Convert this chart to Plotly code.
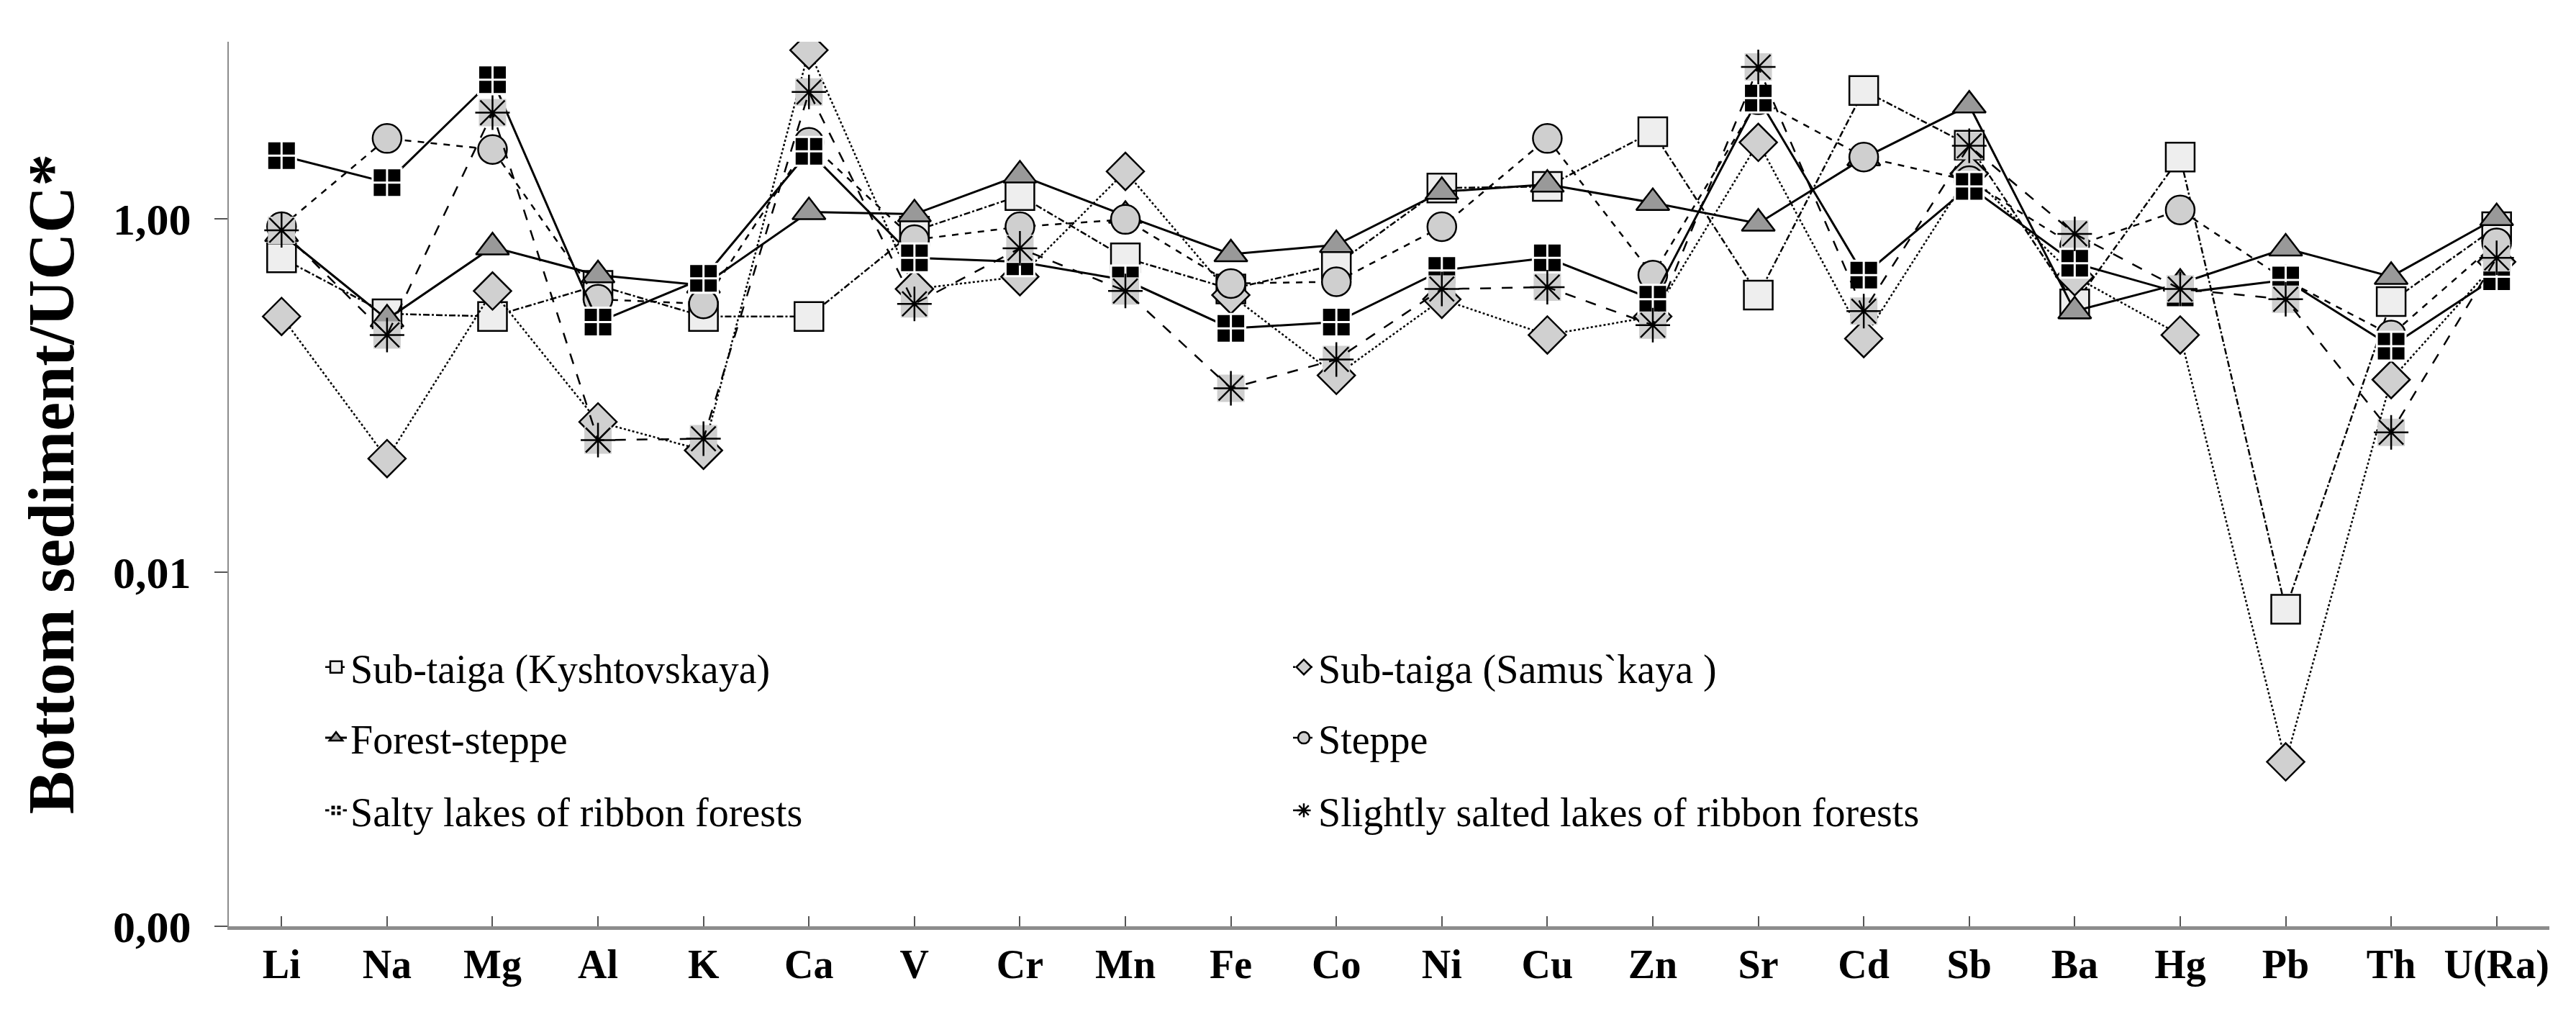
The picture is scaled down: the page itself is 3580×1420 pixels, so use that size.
import plotly.graph_objects as go

elements = ["Li", "Na", "Mg", "Al", "K", "Ca", "V", "Cr", "Mn", "Fe", "Co", "Ni",
            "Cu", "Zn", "Sr", "Cd", "Sb", "Ba", "Hg", "Pb", "Th", "U(Ra)"]

kyshtovskaya = [0.60, 0.29, 0.28, 0.42, 0.28, 0.28, 0.85, 1.35, 0.60, 0.40, 0.55, 1.49,
                1.52, 3.10, 0.37, 5.30, 2.60, 0.33, 2.23, 0.0062, 0.34, 0.90]
samuskaya = [0.28, 0.044, 0.39, 0.071, 0.049, 8.96, 0.40, 0.47, 1.85, 0.37, 0.13, 0.35,
             0.22, 0.28, 2.70, 0.21, 1.80, 0.47, 0.22, 0.00085, 0.123, 0.57]
forest_steppe = [0.82, 0.27, 0.69, 0.48, 0.42, 1.09, 1.06, 1.76, 1.04, 0.63, 0.71, 1.42,
                 1.56, 1.23, 0.94, 2.20, 4.37, 0.30, 0.43, 0.68, 0.47, 1.01]
steppe = [0.90, 2.84, 2.46, 0.35, 0.33, 2.70, 0.76, 0.90, 0.99, 0.43, 0.44, 0.90,
          2.84, 0.48, 4.70, 2.23, 1.64, 0.70, 1.12, 0.45, 0.22, 0.73]
salty = [2.27, 1.60, 6.10, 0.26, 0.46, 2.40, 0.60, 0.57, 0.45, 0.24, 0.26, 0.51,
         0.60, 0.35, 4.80, 0.48, 1.52, 0.56, 0.38, 0.45, 0.19, 0.47]
slightly_salted = [0.86, 0.22, 3.97, 0.056, 0.057, 5.20, 0.33, 0.68, 0.39, 0.11, 0.16, 0.40,
                   0.41, 0.25, 7.20, 0.30, 2.58, 0.82, 0.40, 0.35, 0.062, 0.60]

y_tickvals = [0.0001, 0.01, 1]
y_ticktext = ["0,00", "0,01", "1,00"]

FONT = "Liberation Serif"
MS = 40

fig = go.Figure()

fig.add_trace(go.Scatter(
    x=elements, y=kyshtovskaya, name="Sub-taiga (Kyshtovskaya)", mode="lines+markers",
    legend="legend",
    line=dict(color="black", width=2.5, dash="dashdot"),
    marker=dict(symbol="square", size=MS, color="#eeeeee", line=dict(color="black", width=2.5))))

fig.add_trace(go.Scatter(
    x=elements, y=samuskaya, name="Sub-taiga (Samus`kaya )", mode="lines+markers",
    legend="legend",
    line=dict(color="black", width=2.5, dash="dot"),
    marker=dict(symbol="diamond", size=MS, color="#d0d0d0", line=dict(color="black", width=2.5))))

fig.add_trace(go.Scatter(
    x=elements, y=forest_steppe, name="Forest-steppe", mode="lines+markers",
    legend="legend2",
    line=dict(color="black", width=3),
    marker=dict(symbol="triangle-up", size=MS, color="#999999", line=dict(color="black", width=2.5))))

fig.add_trace(go.Scatter(
    x=elements, y=steppe, name="Steppe", mode="lines+markers",
    legend="legend2",
    line=dict(color="black", width=2.5, dash="dash"),
    marker=dict(symbol="circle", size=MS, color="#cfcfcf", line=dict(color="black", width=2.5))))

fig.add_trace(go.Scatter(
    x=elements, y=salty, name="Salty lakes of ribbon forests", mode="lines+markers",
    legend="legend3",
    line=dict(color="black", width=3),
    marker=dict(symbol="square-cross", size=MS, color="black", line=dict(color="white", width=3))))

# grey square behind the asterisks
fig.add_trace(go.Scatter(
    x=elements, y=slightly_salted, mode="markers", showlegend=False, hoverinfo="skip",
    marker=dict(symbol="square", size=MS - 2, color="#cfcfcf", line=dict(width=0))))

fig.add_trace(go.Scatter(
    x=elements, y=slightly_salted, name="Slightly salted lakes of ribbon forests",
    mode="lines+markers", legend="legend3",
    line=dict(color="black", width=2.5, dash="longdash"),
    marker=dict(symbol="asterisk-open", size=MS, color="black", line=dict(color="black", width=2.5))))

leg = dict(orientation="h", x=0.04, xanchor="left", yanchor="middle",
           bgcolor="rgba(0,0,0,0)", entrywidth=1300,
           font=dict(family=FONT, size=56, color="black"))

fig.update_layout(
    width=3580, height=1420,
    paper_bgcolor="white", plot_bgcolor="white",
    margin=dict(l=310, r=45, t=50, b=141),
    font=dict(family=FONT, color="black"),
    legend=dict(leg, y=0.293),
    legend2=dict(leg, y=0.213),
    legend3=dict(leg, y=0.131),
)

fig.update_xaxes(
    type="category", range=[-0.5, 21.5],
    showline=True, linecolor="#8c8c8c", linewidth=5,
    ticks="inside", ticklen=14, tickwidth=2, tickcolor="#555555",
    showgrid=False, zeroline=False,
    tickfont=dict(family=FONT, size=56, color="black"),
    ticktext=["<b>%s</b>" % e for e in elements], tickvals=elements,
)

fig.update_yaxes(
    type="log", range=[-4, 1],
    showline=True, linecolor="#8c8c8c", linewidth=2,
    ticks="outside", ticklen=18, tickwidth=2, tickcolor="#555555",
    showgrid=False, zeroline=False,
    tickvals=y_tickvals, ticktext=["<b>%s</b>" % t for t in y_ticktext],
    tickfont=dict(family=FONT, size=62, color="black"),
    ticklabelstandoff=20,
    title=dict(text="<b>Bottom sediment/UCC*</b>", font=dict(family=FONT, size=90, color="black"),
               standoff=25),
)

fig.write_html("out.html")
